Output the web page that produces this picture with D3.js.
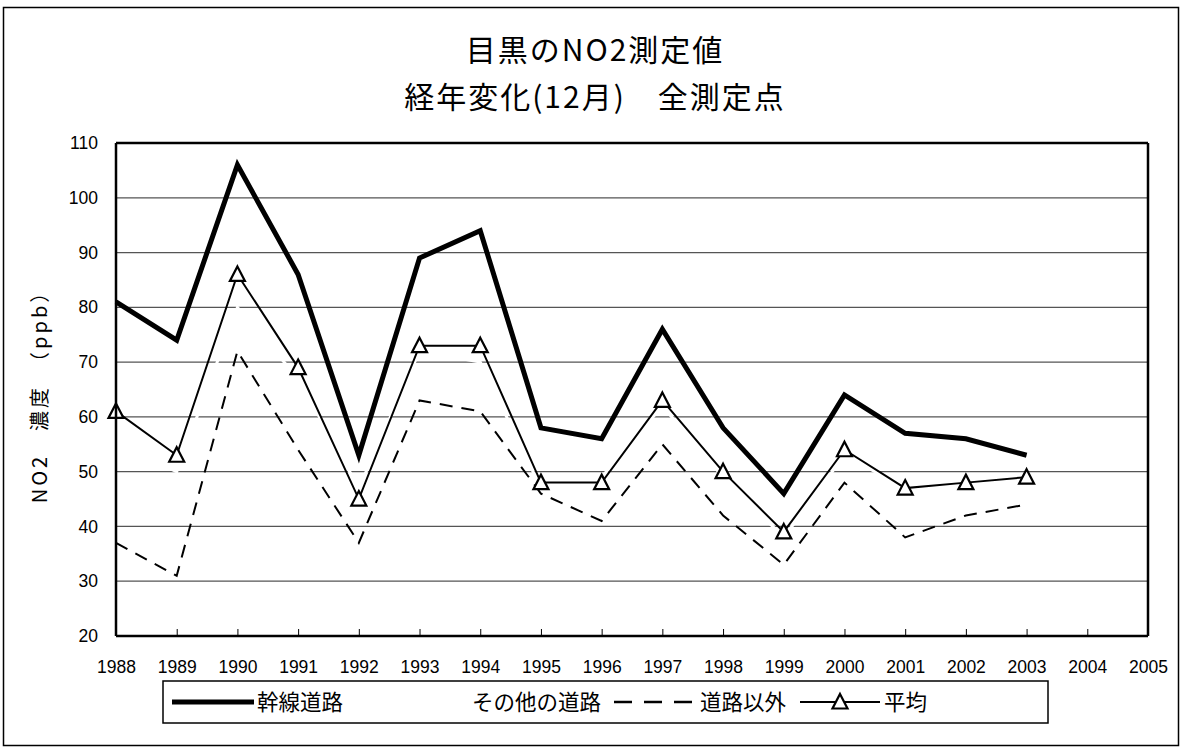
<!DOCTYPE html>
<html><head><meta charset="utf-8">
<script src="https://cdn.jsdelivr.net/npm/d3@7"></script>
<style>body{margin:0;background:#fff}svg{display:block}</style>
</head><body>
<script>
const years = ["1988","1989","1990","1991","1992","1993","1994","1995","1996","1997","1998","1999","2000","2001","2002","2003","2004","2005"];
const yTicks = [20,30,40,50,60,70,80,90,100,110];
const kansen = [81,74,106,86,53,89,94,58,56,76,58,46,64,57,56,53];
const sonota = [55,50,80,67,47,72,70,47,49,62,49,38,53,47,47,48];
const igai   = [37,31,72,54,37,63,61,46,41,55,42,33,48,38,42,44];
const heikin = [61,53,86,69,45,73,73,48,48,63,50,39,54,47,48,49];
const titleLines = ["目黒のNO2測定値","経年変化(12月)　全測定点"];
const yLabel = "NO2　濃度　（ppb）";
const legendNames = ["幹線道路","その他の道路","道路以外","平均"];

const W=1185,H=754;
const svg=d3.select("body").append("svg").attr("width",W).attr("height",H);
const font="'Noto Sans CJK JP','Noto Sans',sans-serif";
const numFont="'Liberation Sans',Arial,sans-serif";
svg.append("rect").attr("x",3.5).attr("y",7.5).attr("width",1175).attr("height",738).attr("fill","#fff").attr("stroke","#000").attr("stroke-width",1.5);

const L=116,R=1148,T=143,B=636;
const x=d3.scalePoint().domain(years).range([L,R]);
const y=d3.scaleLinear().domain([20,110]).range([B,T]);

// title
svg.append("g").selectAll("text").data(titleLines).join("text")
  .attr("x",595).attr("y",(d,i)=>61+i*47).attr("text-anchor","middle")
  .attr("font-family",font).attr("font-size",30).attr("letter-spacing",2).text(d=>d);

// grid
svg.append("g").selectAll("line").data(yTicks.filter(v=>v>20&&v<110)).join("line")
  .attr("x1",L).attr("x2",R).attr("y1",d=>y(d)).attr("y2",d=>y(d))
  .attr("stroke","#555").attr("stroke-width",1.2);

// axes
const xa=svg.append("g").attr("transform",`translate(0,${B})`)
  .call(d3.axisBottom(x).tickSize(-7).tickPadding(25).tickSizeOuter(0));
xa.select(".domain").remove();
xa.selectAll("line").attr("stroke","#000").attr("stroke-width",1);
xa.selectAll("text").attr("font-family",numFont).attr("font-size",17.5).attr("fill","#000");
const ya=svg.append("g").attr("transform",`translate(${L},0)`)
  .call(d3.axisLeft(y).tickValues(yTicks).tickSize(0).tickPadding(18));
ya.select(".domain").remove();
ya.selectAll("text").attr("font-family",numFont).attr("font-size",17.5).attr("fill","#000");

svg.append("text").attr("transform",`translate(40,${(T+B)/2+2}) rotate(-90)`)
  .attr("text-anchor","middle").attr("dy","0.35em").attr("font-family",font).attr("font-size",20).attr("letter-spacing",3).text(yLabel);

const line=d3.line().x((d,i)=>x(years[i])).y(d=>y(d));
svg.append("path").datum(sonota).attr("d",line).attr("fill","none").attr("stroke","#fff").attr("stroke-width",3);
svg.append("path").datum(igai).attr("d",line).attr("fill","none").attr("stroke","#000").attr("stroke-width",2).attr("stroke-dasharray","13,9");
svg.append("path").datum(heikin).attr("d",line).attr("fill","none").attr("stroke","#000").attr("stroke-width",2);
svg.append("path").datum(kansen).attr("d",line).attr("fill","none").attr("stroke","#000").attr("stroke-width",5).attr("stroke-linejoin","miter");
const tri="M0,-8L7.5,6.5L-7.5,6.5Z";
svg.append("g").selectAll("path").data(heikin).join("path")
  .attr("transform",(d,i)=>`translate(${x(years[i])},${y(d)})`).attr("d",tri)
  .attr("fill","#fff").attr("stroke","#000").attr("stroke-width",2.2);

// plot frame
[[L,T,L,B],[L,B,R,B],[L,T,R,T],[R,T,R,B]].forEach(s=>
  svg.append("line").attr("x1",s[0]).attr("y1",s[1]).attr("x2",s[2]).attr("y2",s[3]).attr("stroke","#000").attr("stroke-width",2.5));

// legend
const lg=svg.append("g");
lg.append("rect").attr("x",163).attr("y",681).attr("width",885).attr("height",42).attr("fill","#fff").attr("stroke","#000").attr("stroke-width",1.5);
const ly=702;
const items=[
 {sx:172,ex:254,tx:257,style:{w:5,dash:null,col:"#000"},mark:false},
 {sx:388,ex:466,tx:472,style:{w:3,dash:null,col:"#fff"},mark:false},
 {sx:614,ex:692,tx:700,style:{w:2.5,dash:"18,12",col:"#000"},mark:false},
 {sx:800,ex:880,tx:884,style:{w:2,dash:null,col:"#000"},mark:true}];
items.forEach((it,i)=>{
  lg.append("line").attr("x1",it.sx).attr("x2",it.ex).attr("y1",ly).attr("y2",ly)
    .attr("stroke",it.style.col).attr("stroke-width",it.style.w).attr("stroke-dasharray",it.style.dash);
  if(it.mark) lg.append("path").attr("transform",`translate(${(it.sx+it.ex)/2},${ly})`).attr("d",tri)
    .attr("fill","#fff").attr("stroke","#000").attr("stroke-width",2.2);
  lg.append("text").attr("x",it.tx).attr("y",ly).attr("dy","0.36em").attr("font-family",font).attr("font-size",21.5).text(legendNames[i]);
});
</script>
</body></html>
